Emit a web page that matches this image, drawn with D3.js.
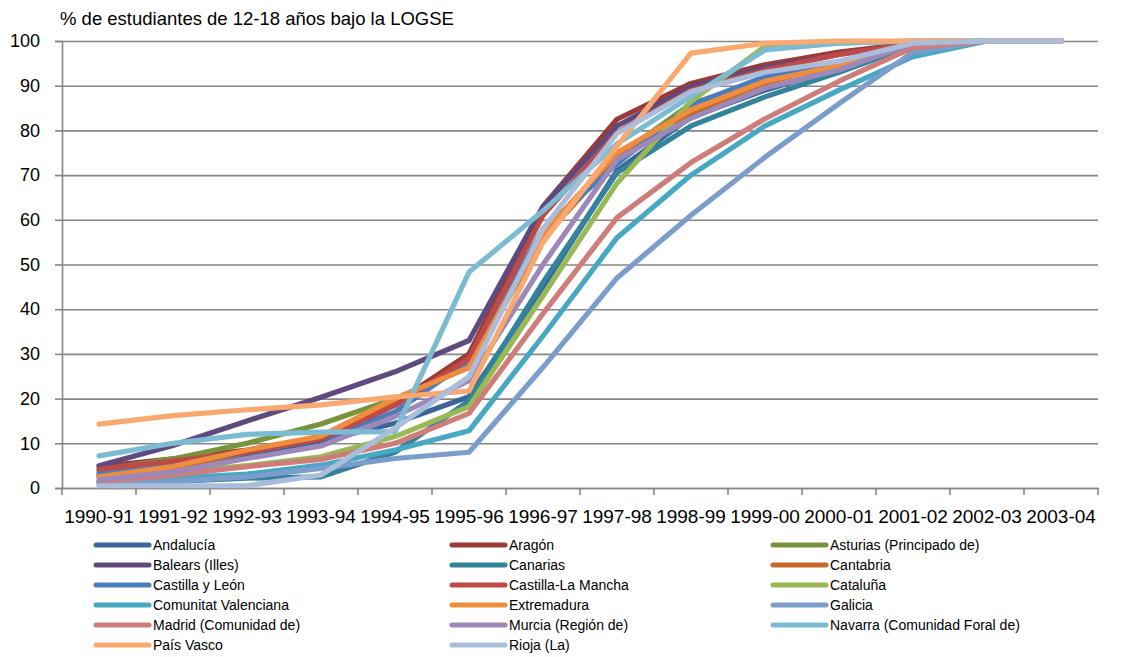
<!DOCTYPE html>
<html>
<head>
<meta charset="utf-8">
<script src="https://cdn.jsdelivr.net/npm/d3@7"></script>
<style>
  html, body { margin: 0; padding: 0; background: #fff; }
  svg { display: block; font-family: "Liberation Sans", Arial, sans-serif; }
</style>
</head>
<body>
<svg id="chart" width="1133" height="657"></svg>
<script>
// ---------- DATA ----------
const categories = ["1990-91","1991-92","1992-93","1993-94","1994-95","1995-96","1996-97",
  "1997-98","1998-99","1999-00","2000-01","2001-02","2002-03","2003-04"];
const yTicks = [0,10,20,30,40,50,60,70,80,90,100];
const title = "% de estudiantes de 12-18 años bajo la LOGSE";

const andalucia   = [3.0, 5.0, 7.5, 10.5, 14.5, 20.4, 45, 71, 83, 89, 94, 99, 100, 100];
const aragon      = [4.8, 6.5, 8.5, 11.2, 19, 30, 63, 82.5, 90.5, 94.7, 97.5, 99.5, 100, 100];
const asturias    = [4.0, 6.5, 10.0, 14.3, 20, 27, 56, 74, 86, 91, 95, 99, 100, 100];
const balears     = [5.0, 9.5, 15, 20.3, 26, 33, 63, 81, 89.8, 94, 97, 99.5, 100, 100];
const canarias    = [1.0, 1.5, 2.2, 2.5, 8, 19.5, 46, 70.5, 81, 87.5, 93, 99, 100, 100];
const cantabria   = [2.5, 4.5, 8.0, 11.5, 19, 27.5, 56, 74, 84, 90.5, 95, 99.5, 100, 100];
const castillaLeon= [3.5, 5.5, 8.0, 11, 17, 28.5, 58, 72.5, 85.7, 92, 95, 99.5, 100, 100];
const castillaLM  = [4.2, 6.0, 8.0, 11.0, 18.5, 29, 61, 79.5, 89, 93.5, 97, 99.5, 100, 100];
const cataluna    = [2.5, 3.5, 5.0, 7.0, 11.5, 18.2, 43, 68.2, 86.5, 98.8, 99.5, 100, 100, 100];
const valenciana  = [1.5, 2.2, 3.1, 5.1, 8.5, 12.8, 34, 56, 70, 81, 89, 96.5, 100, 100];
const extremadura = [2.5, 4.8, 8.5, 11.6, 20, 27, 57, 75, 84.6, 91, 94.5, 99.5, 100, 100];
const galicia     = [1.0, 1.5, 2.5, 4.4, 6.6, 8.0, 27, 47, 61, 74, 86, 97.5, 100, 100];
const madrid      = [1.4, 2.9, 4.8, 6.4, 10, 16.7, 39, 60.5, 72.8, 82.6, 91, 98.5, 100, 100];
const murcia      = [1.8, 3.6, 6.6, 9.4, 16, 24, 50, 73.5, 82.7, 89.5, 93.5, 99.5, 100, 100];
const navarra     = [7.2, 10.0, 12.0, 12.5, 12.6, 48.3, 62, 77, 87.6, 98, 99.5, 100, 100, 100];
const paisVasco   = [14.3, 16.2, 17.5, 18.6, 20.4, 21.7, 55, 76.5, 97.3, 99.5, 100, 100, 100, 100];
const rioja       = [0.5, 0.5, 0.5, 2.9, 13.4, 24.9, 58, 79.3, 88.7, 93, 95.5, 99.5, 100, 100];

const seriesNames = ["Andalucía","Aragón","Asturias (Principado de)","Balears (Illes)","Canarias",
  "Cantabria","Castilla y León","Castilla-La Mancha","Cataluña","Comunitat Valenciana",
  "Extremadura","Galicia","Madrid (Comunidad de)","Murcia (Región de)",
  "Navarra (Comunidad Foral de)","País Vasco","Rioja (La)"];
const seriesValues = [andalucia, aragon, asturias, balears, canarias, cantabria, castillaLeon,
  castillaLM, cataluna, valenciana, extremadura, galicia, madrid, murcia, navarra, paisVasco, rioja];
const seriesColors = ["#3C659A","#9B3A37","#77933C","#5F4A7F","#31849B","#C56B2C","#4A7EBB",
  "#BD4A47","#98B954","#46A8C3","#F08C3E","#7C9CCB","#CF7D7B","#9C89B9","#7BBCD3","#F9A870","#AABEDC"];

(function () {
const series = seriesNames.map((n, i) => ({ name: n, values: seriesValues[i], color: seriesColors[i] }));

// ---------- CHART ----------
const svg = d3.select("#chart");
const mLeft = 62, mRight = 1098, mTop = 41, mBottom = 488;
const grid = "#868686";

const x = d3.scaleBand().domain(categories).range([mLeft, mRight]);
const y = d3.scaleLinear().domain([0, 100]).range([mBottom, mTop]);

// title
svg.append("text").attr("x", 60).attr("y", 25)
  .attr("font-size", 18.5).attr("fill", "#000").text(title);

// gridlines
svg.append("g").attr("transform", `translate(${mLeft},0)`)
  .call(d3.axisLeft(y).tickValues(yTicks).tickSize(-(mRight - mLeft)).tickFormat(""))
  .call(g => g.select(".domain").remove())
  .call(g => g.selectAll("line").attr("stroke", grid).attr("stroke-width", 1.6));

// y axis
svg.append("g").attr("transform", `translate(${mLeft},0)`)
  .call(d3.axisLeft(y).tickValues(yTicks).tickSize(7).tickPadding(15))
  .call(g => g.select(".domain").attr("stroke", grid).attr("stroke-width", 1.6))
  .call(g => g.selectAll("line").attr("stroke", grid).attr("stroke-width", 1.6))
  .call(g => g.selectAll("text").attr("font-size", 18).attr("fill", "#000")
    .attr("font-family", "'Liberation Sans', Arial, sans-serif"));

// x axis
svg.append("g").attr("transform", `translate(0,${mBottom})`)
  .call(d3.axisBottom(x).tickSize(0).tickPadding(22))
  .call(g => g.select(".domain").attr("stroke", grid).attr("stroke-width", 1.6))
  .call(g => g.selectAll("text").attr("font-size", 19).attr("fill", "#000")
    .attr("font-family", "'Liberation Sans', Arial, sans-serif"));

// x tick marks at category boundaries
const boundaries = categories.map(c => x(c)).concat([x.range()[1]]);
svg.append("g").selectAll("line").data(boundaries).join("line")
  .attr("x1", d => d).attr("x2", d => d)
  .attr("y1", mBottom).attr("y2", mBottom + 7)
  .attr("stroke", grid).attr("stroke-width", 1.6);

// lines
const line = d3.line()
  .x((d, i) => x(categories[i]) + x.bandwidth() / 2)
  .y(d => y(d));

svg.append("g").selectAll("path").data(series).join("path")
  .attr("d", d => line(d.values))
  .attr("fill", "none")
  .attr("stroke", d => d.color)
  .attr("stroke-width", 5.2)
  .attr("stroke-linejoin", "round")
  .attr("stroke-linecap", "round");

// legend
const colX = [96, 452, 773];
const legend = svg.append("g");
series.forEach((s, i) => {
  const cx = colX[i % 3];
  const cy = 545 + Math.floor(i / 3) * 20;
  legend.append("line").attr("x1", cx).attr("x2", cx + 53)
    .attr("y1", cy).attr("y2", cy)
    .attr("stroke", s.color).attr("stroke-width", 5).attr("stroke-linecap", "round");
  legend.append("text").attr("x", cx + 57).attr("y", cy + 5)
    .attr("font-size", 14).attr("fill", "#000").text(s.name);
});
})();
</script>
</body>
</html>
